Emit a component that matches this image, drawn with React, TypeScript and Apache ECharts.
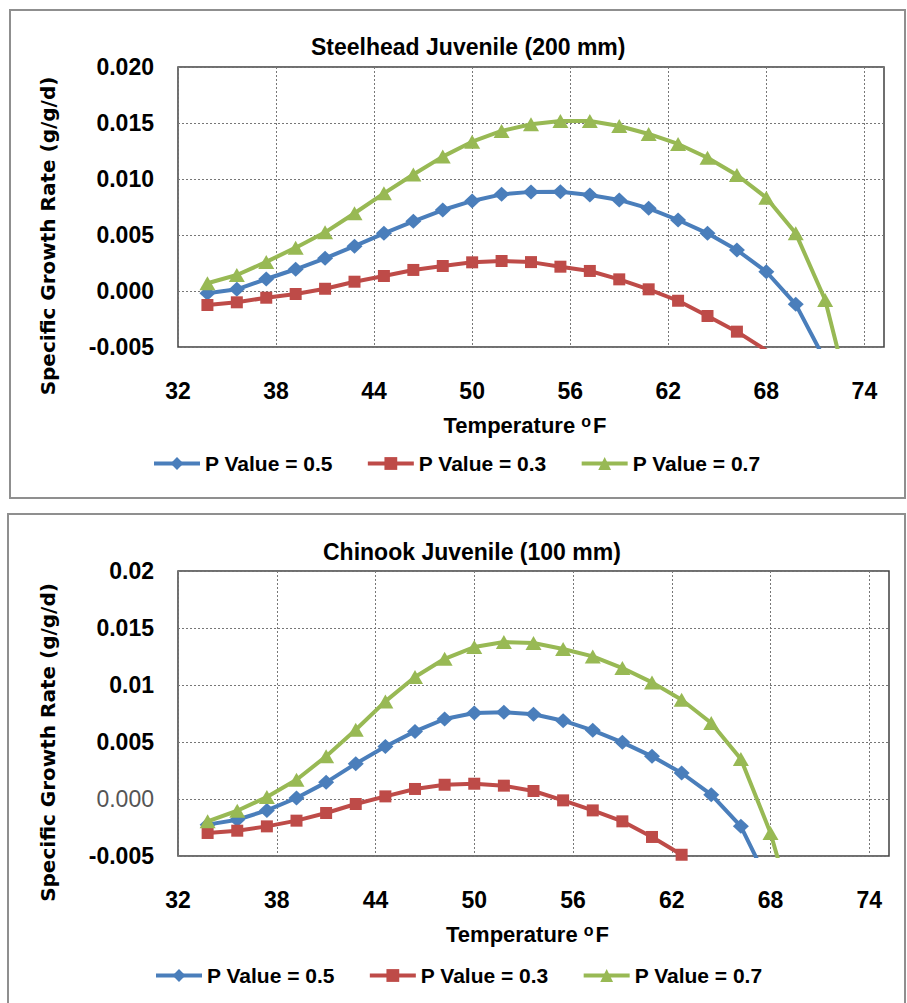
import React, { useEffect, useRef } from 'react';
import * as echarts from 'echarts';

// Temperatures (°F) of the plotted points
const temps = [33.8, 35.6, 37.4, 39.2, 41.0, 42.8, 44.6, 46.4, 48.2, 50.0, 51.8, 53.6, 55.4, 57.2, 59.0, 60.8, 62.6, 64.4, 66.2, 68.0, 69.8, 71.6, 73.4];
const tickTemps = [32, 38, 44, 50, 56, 62, 68, 74];
const seriesNames = ['P Value = 0.5', 'P Value = 0.3', 'P Value = 0.7'];

// Steelhead Juvenile (200 mm)
const steelheadP05 = [-0.0002, 0.00015, 0.00107, 0.00194, 0.00292, 0.0040, 0.00515, 0.00622, 0.00723, 0.00804, 0.00863, 0.00885, 0.00887, 0.00857, 0.00813, 0.00738, 0.00634, 0.00515, 0.00366, 0.00172, -0.00119, -0.0062];
const steelheadP03 = [-0.00125, -0.00101, -0.0006, -0.00027, 0.0002, 0.00083, 0.00134, 0.00188, 0.00223, 0.00256, 0.00268, 0.00258, 0.00217, 0.00179, 0.00104, 0.00015, -0.00087, -0.00223, -0.00363, -0.0053];
const steelheadP07 = [0.00069, 0.00143, 0.0026, 0.00387, 0.00524, 0.00694, 0.00872, 0.0104, 0.0120, 0.01333, 0.01429, 0.01489, 0.01518, 0.01518, 0.01473, 0.01402, 0.01313, 0.0119, 0.01036, 0.00833, 0.00515, -0.0008, -0.0112];

// Chinook Juvenile (100 mm)
const chinookP05 = [-0.00225, -0.00182, -0.001, 0.00009, 0.00146, 0.0031, 0.00461, 0.00593, 0.00702, 0.00754, 0.0076, 0.00744, 0.00687, 0.00602, 0.00497, 0.00374, 0.00228, 0.00038, -0.0024, -0.0077];
const chinookP03 = [-0.00298, -0.00278, -0.0024, -0.0019, -0.00123, -0.00044, 0.00023, 0.00088, 0.00125, 0.00134, 0.00117, 0.0007, -0.00012, -0.001, -0.00196, -0.00333, -0.00489];
const chinookP07 = [-0.00196, -0.00103, 0.00018, 0.00169, 0.00374, 0.00608, 0.00856, 0.0107, 0.0123, 0.01333, 0.01377, 0.01368, 0.01316, 0.01251, 0.01149, 0.01023, 0.00871, 0.00667, 0.00351, -0.00298, -0.012];

const chartTitles = ['Steelhead Juvenile (200 mm)', 'Chinook Juvenile (100 mm)'];
const chartSeries = [
  [steelheadP05, steelheadP03, steelheadP07],
  [chinookP05, chinookP03, chinookP07],
];

const colors = ['#4A7EBB', '#BE4B48', '#98B954'];
const symbols = ['diamond', 'rect', 'triangle'];
const symbolSizes: number[][] = [[16, 15], [12, 12], [16, 14]];

const FONT = "'Liberation Sans', Arial, sans-serif";

function pairs(vals: number[]) {
  return vals.map((v, i) => [temps[i], v]);
}

const bottomYLabels: Record<string, string> = {
  '20': '0.02',
  '15': '0.015',
  '10': '0.01',
  '5': '0.005',
  '0': '{g|0.000}',
  '-5': '-0.005',
};

export default function App() {
  const ref = useRef<HTMLDivElement>(null);

  useEffect(() => {
    if (!ref.current) return;
    const chart = echarts.init(ref.current, null, { renderer: 'svg' });

    const grids = [
      { left: 178, top: 67, width: 706, height: 280 },
      { left: 178, top: 571, width: 711, height: 285 },
    ];

    const legendBase = {
      data: seriesNames,
      itemWidth: 46,
      itemHeight: 16,
      itemGap: 33,
      lineStyle: { width: 4 },
      textStyle: { fontSize: 21, fontWeight: 'bold', fontFamily: FONT, color: '#000' },
    };

    const option: any = {
      animation: false,
      backgroundColor: '#ffffff',
      title: [
        { text: chartTitles[0], left: 306, top: 30, textStyle: { fontSize: 23, fontWeight: 'bold', fontFamily: FONT, color: '#000' } },
        { text: chartTitles[1], left: 318, top: 535, textStyle: { fontSize: 23, fontWeight: 'bold', fontFamily: FONT, color: '#000' } },
      ],
      graphic: [
        { type: 'rect', shape: { x: 10, y: 10, width: 895, height: 488 }, style: { fill: 'none', stroke: '#8f8f8f', lineWidth: 2 }, z: -1 },
        { type: 'rect', shape: { x: 8, y: 514, width: 897, height: 500 }, style: { fill: 'none', stroke: '#8f8f8f', lineWidth: 2 }, z: -1 },
      ],
      legend: [
        { ...legendBase, left: 147, top: 448 },
        { ...legendBase, left: 149, top: 960 },
      ],
      grid: grids.map((g) => ({ ...g, show: true, borderColor: '#404040', borderWidth: 1.5, containLabel: false })),
      xAxis: [0, 1].map((i) => ({
        type: 'value',
        gridIndex: i,
        min: 32,
        max: 75.2,
        axisLine: { show: false },
        axisTick: { show: false, customValues: tickTemps },
        axisLabel: { customValues: tickTemps, margin: 32, fontSize: 23, fontWeight: 'bold', fontFamily: FONT, color: '#000' },
        splitLine: { show: true, lineStyle: { color: '#777', type: [2, 2], width: 1 } },
        name: '{a|Temperature }{b|o}{a|F}',
        nameLocation: 'middle',
        nameGap: 66,
        nameTextStyle: {
          padding: [0, 12, 0, 0],
          rich: {
            a: { fontSize: 22, fontWeight: 'bold', fontFamily: FONT, color: '#000' },
            b: { fontSize: 16, fontWeight: 'bold', fontFamily: FONT, color: '#000', verticalAlign: 'top', padding: [0, 2, 8, 0] },
          },
        },
      })),
      yAxis: [0, 1].map((i) => ({
        type: 'value',
        gridIndex: i,
        min: -0.005,
        max: 0.02,
        interval: 0.005,
        axisLine: { show: false },
        axisTick: { show: false },
        axisLabel: {
          margin: 24,
          fontSize: 23,
          fontWeight: 'bold',
          fontFamily: FONT,
          color: '#000',
          formatter: (v: number) => {
            const k = Math.round(v * 1000);
            if (i === 0) return (k / 1000).toFixed(3);
            return bottomYLabels[String(k)] ?? '';
          },
          rich: { g: { fontSize: 23, fontWeight: 'normal', fontFamily: FONT, color: '#555' } },
        },
        splitLine: { show: true, lineStyle: { color: '#777', type: [2, 2], width: 1 } },
        name: 'Specific Growth Rate (g/g/d)',
        nameLocation: 'middle',
        nameRotate: 90,
        nameGap: 120,
        nameTextStyle: { fontFamily: "'DejaVu Sans', Verdana, sans-serif", fontWeight: 'bold', fontSize: 20, color: '#000', padding: [0, 58, 0, 0] },
      })),
      series: chartSeries.flatMap((group, ci) =>
        group.map((vals, si) => ({
          type: 'line',
          name: seriesNames[si],
          xAxisIndex: ci,
          yAxisIndex: ci,
          data: pairs(vals),
          symbol: symbols[si],
          symbolSize: symbolSizes[si],
          lineStyle: { color: colors[si], width: 4 },
          itemStyle: { color: colors[si] },
          clip: true,
          z: 2 + si,
        }))
      ),
    };

    chart.setOption(option);
    return () => chart.dispose();
  }, []);

  return <div ref={ref} style={{ position: 'absolute', left: 0, top: 0, width: 907, height: 1003 }} />;
}
